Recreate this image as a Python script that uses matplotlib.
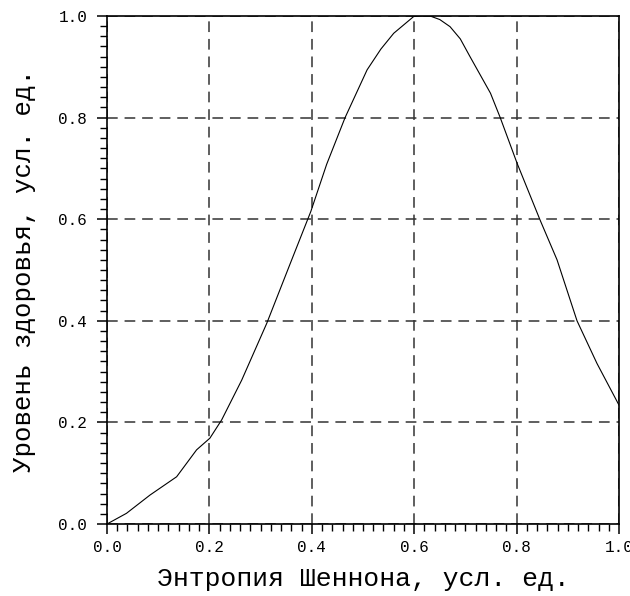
import matplotlib

matplotlib.use("Agg")
import matplotlib.pyplot as plt
from matplotlib.ticker import MultipleLocator

# curve
entropy = [0.0, 0.038, 0.084, 0.136, 0.175, 0.201, 0.224, 0.263, 0.312, 0.358,
           0.398, 0.429, 0.465, 0.508, 0.535, 0.560, 0.599, 0.618, 0.631, 0.650,
           0.670, 0.690, 0.709, 0.749, 0.768, 0.801, 0.846, 0.879, 0.918, 0.957,
           1.0]
health = [0.0, 0.021, 0.057, 0.093, 0.146, 0.169, 0.205, 0.283, 0.395, 0.513,
          0.615, 0.708, 0.800, 0.894, 0.935, 0.966, 0.999, 1.0, 1.0, 0.993,
          0.979, 0.955, 0.920, 0.848, 0.800, 0.710, 0.598, 0.520, 0.400, 0.316,
          0.234]

xlabel = "Энтропия Шеннона, усл. ед."
ylabel = "Уровень здоровья, усл. ед."

plt.rcParams["font.family"] = ["Liberation Mono", "DejaVu Sans Mono"]

fig = plt.figure(figsize=(6.3, 5.96), dpi=100)
ax = fig.add_axes([107 / 630, 1 - 524 / 596, 512 / 630, 508 / 596])

ax.plot(entropy, health, color="black", lw=0.8)

ax.set_xlim(0, 1)
ax.set_ylim(0, 1)
ax.xaxis.set_major_locator(MultipleLocator(0.2))
ax.xaxis.set_minor_locator(MultipleLocator(0.02))
ax.yaxis.set_major_locator(MultipleLocator(0.2))
ax.yaxis.set_minor_locator(MultipleLocator(0.02))
ax.xaxis.set_major_formatter(lambda v, p: f"{v:.1f}")
ax.yaxis.set_major_formatter(lambda v, p: f"{v:.1f}")

ax.grid(which="major", color="#333333", lw=1.1, ls=(0, (7, 4.5)))
ax.tick_params(which="major", direction="out", length=7.2, width=1.1,
               labelsize=11.5)
ax.tick_params(which="minor", direction="out", length=5.2, width=1.0)
ax.tick_params(axis="x", which="major", pad=4)
ax.tick_params(axis="y", which="major", pad=7)
for s in ax.spines.values():
    s.set_linewidth(1.2)

ax.set_xlabel(xlabel, fontsize=19, labelpad=9)
ax.set_ylabel(ylabel, fontsize=18.5, labelpad=16)

fig.savefig("out.png", dpi=100)
